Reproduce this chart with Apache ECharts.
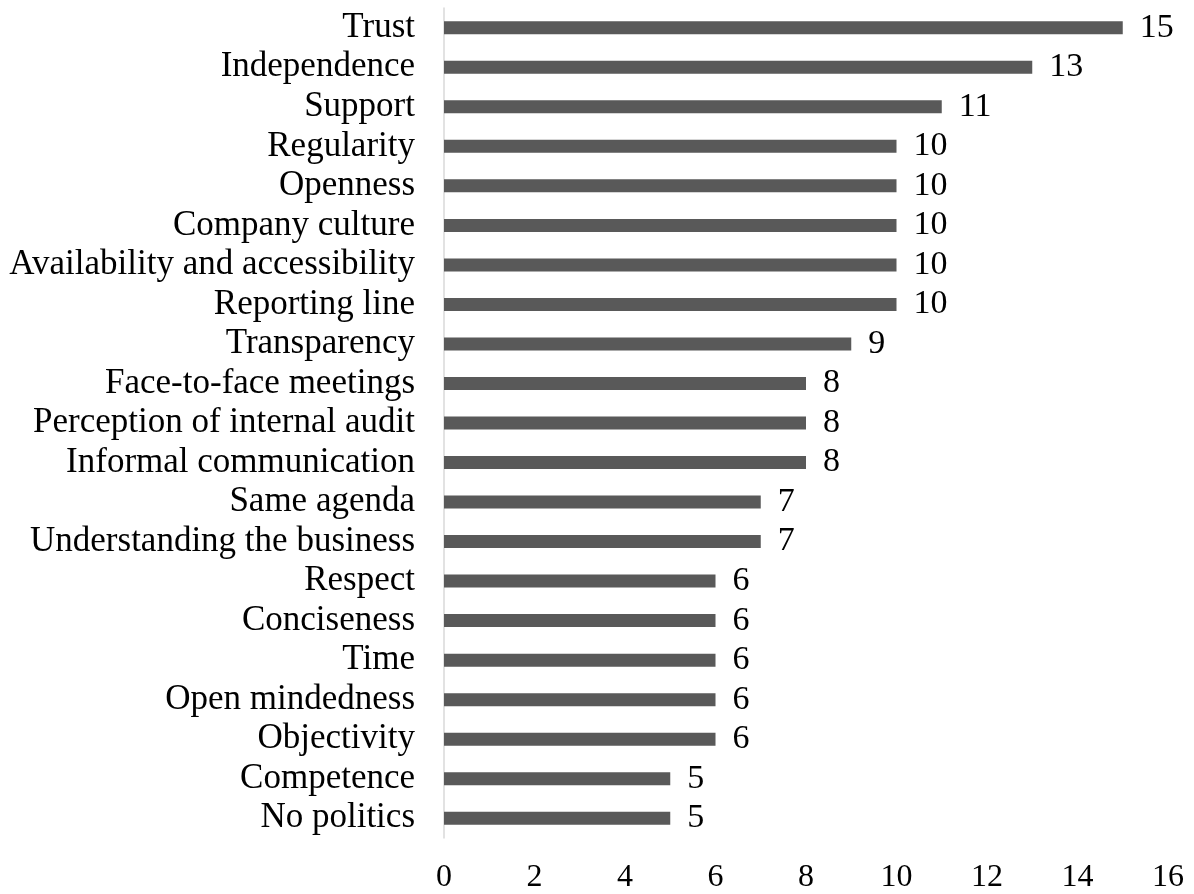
<!DOCTYPE html>
<html>
<head>
<meta charset="utf-8">
<script src="https://cdn.jsdelivr.net/npm/echarts@6/dist/echarts.min.js"></script>
<style>
  html, body { margin: 0; padding: 0; background: #fff; }
  #chart { width: 1194px; height: 894px; }
</style>
</head>
<body>
<div id="chart"></div>
<script>
// Factors, listed top to bottom, with their mention counts
const categories = [
  'Trust', 'Independence', 'Support', 'Regularity', 'Openness',
  'Company culture', 'Availability and accessibility', 'Reporting line',
  'Transparency', 'Face-to-face meetings', 'Perception of internal audit',
  'Informal communication', 'Same agenda', 'Understanding the business',
  'Respect', 'Conciseness', 'Time', 'Open mindedness', 'Objectivity',
  'Competence', 'No politics'
];
const counts = [15, 13, 11, 10, 10, 10, 10, 10, 9, 8, 8, 8, 7, 7, 6, 6, 6, 6, 6, 5, 5];
const xTicks = [0, 2, 4, 6, 8, 10, 12, 14, 16];

const serif = '"Liberation Serif", "Times New Roman", serif';
const chart = echarts.init(document.getElementById('chart'));
chart.setOption({
  animation: false,
  backgroundColor: '#ffffff',
  grid: { left: 444, right: 26, top: 8, bottom: 54, containLabel: false },
  xAxis: {
    type: 'value',
    min: xTicks[0],
    max: xTicks[xTicks.length - 1],
    interval: xTicks[1] - xTicks[0],
    axisLine: { show: false },
    axisTick: { show: false },
    splitLine: { show: false },
    axisLabel: { color: '#000', fontFamily: serif, fontSize: 32, margin: 24 }
  },
  yAxis: {
    type: 'category',
    data: categories,
    inverse: true,
    axisLine: { show: true, lineStyle: { color: '#d9d9d9', width: 1.5 } },
    axisTick: { show: false },
    axisLabel: {
      interval: 0, color: '#000', fontFamily: serif, fontSize: 35, margin: 29,
      padding: [4, 0, 0, 0]
    }
  },
  series: [{
    type: 'bar',
    data: counts,
    barWidth: 13,
    itemStyle: { color: '#595959' },
    label: {
      show: true,
      position: 'right',
      distance: 17,
      color: '#000',
      fontFamily: serif,
      fontSize: 34,
      padding: [4, 0, 0, 0]
    }
  }]
});
</script>
</body>
</html>
